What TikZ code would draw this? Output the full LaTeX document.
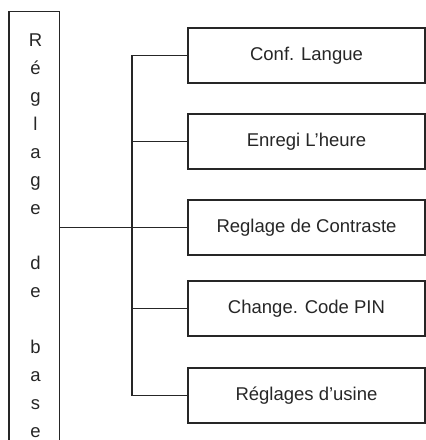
\documentclass[tikz,border=0pt]{standalone}
\usepackage{fontspec}
\setmainfont{Liberation Sans}
\begin{document}
\begin{tikzpicture}[x=1pt,y=1pt,
  line/.style={draw=black!85, line width=1.1pt},
  box/.style={line, minimum width=237pt, minimum height=55pt, inner sep=0pt,
    font=\fontsize{18.5}{22}\selectfont, text=black!85},
  letter/.style={inner sep=0pt, text=black!85, font=\fontsize{18.5}{22}\selectfont}]
\useasboundingbox (0,0) rectangle (426,440);
% main vertical box (open at the bottom)
\node[anchor=south west, minimum width=50pt, minimum height=428pt, inner sep=0pt] (main) at (9,0) {};
\draw[line] (main.south west) -- (main.north west) -- (main.north east) -- (main.south east);
\foreach \ch [count=\i] in {R,é,g,l,a,g,e,{},d,e,{},b,a,s,e}
  \node[letter, anchor=base] (L\i) at (35.5,{393-27.86*(\i-1)}) {\strut\ch};
% right boxes
\node[box] (b1) at (306.5,384.5) {Conf. Langue};
\node[box] (b2) at (306.5,298.5) {Enregi L'heure};
\node[box] (b3) at (306.5,212.5) {Reglage de Contraste};
\node[box] (b4) at (306.5,131.5) {Change. Code PIN};
\node[box] (b5) at (306.5,44.5) {Réglages d’usine};
% connectors
\coordinate (busx) at (132,0);
\draw[line] (main.east |- b3.west) -- (b3.west);
\draw[line] (b1.west) -- (b1.west -| busx) -- (b5.west -| busx) -- (b5.west);
\draw[line] (b2.west -| busx) -- (b2.west);
\draw[line] (b4.west -| busx) -- (b4.west);
\end{tikzpicture}
\end{document}
